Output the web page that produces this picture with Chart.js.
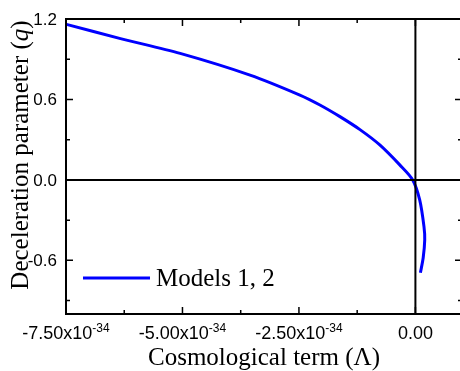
<!DOCTYPE html>
<html>
<head>
<meta charset="utf-8">
<script src="https://cdn.jsdelivr.net/npm/chart.js@4.4.1/dist/chart.umd.min.js"></script>
<style>
  html, body { margin: 0; padding: 0; overflow: hidden; background: #fff; }
  #wrap { width: 472px; height: 371px; }
</style>
</head>
<body>
<div id="wrap"><canvas id="qChart" width="472" height="371"></canvas></div>
<script>
// values (Lambda, q)
const lambdaValues = [-7.49e-34, -6.33e-34, -5.05e-34, -3.55e-34, -2.48e-34, -2.05e-34, -1.62e-34, -1.19e-34,
  -0.765e-34, -0.336e-34, -0.058e-34, 0.092e-34, 0.184e-34, 0.20e-34, 0.167e-34, 0.107e-34];
const qValues = [1.160, 1.054, 0.944, 0.782, 0.633, 0.559, 0.472, 0.375,
  0.261, 0.112, 0.0, -0.149, -0.348, -0.447, -0.581, -0.693];

const xMajorTicks = [-7.5e-34, -5.0e-34, -2.5e-34, 0];
const xTickMain = ["-7.50x10", "-5.00x10", "-2.50x10", "0.00"];
const xTickSup = ["-34", "-34", "-34", ""];
const xMinorTicks = [-6.25e-34, -3.75e-34, -1.25e-34];
const yMajorTicks = [1.2, 0.6, 0.0, -0.6];
const yTickLabels = ["1.2", "0.6", "0.0", "-0.6"];
const yMinorTicks = [0.9, 0.3, -0.3, -0.9];

const seriesLabel = "Models 1, 2";
const xTitle = "Cosmological term (\u039B)";
const yTitle = "Deceleration parameter (";

const points = lambdaValues.map((v, i) => ({ x: v, y: qValues[i] }));

const framePlugin = {
  id: "frame",
  afterDatasetsDraw(chart) {
    const ctx = chart.ctx;
    const a = chart.chartArea;
    const xs = chart.scales.x, ys = chart.scales.y;
    ctx.save();
    ctx.strokeStyle = "#000";
    ctx.lineWidth = 2;
    // zero lines
    const x0 = xs.getPixelForValue(0), y0 = ys.getPixelForValue(0);
    ctx.beginPath();
    ctx.moveTo(x0, a.top); ctx.lineTo(x0, a.bottom);
    ctx.moveTo(a.left, y0); ctx.lineTo(a.right, y0);
    ctx.stroke();
    // box
    ctx.strokeRect(a.left, a.top, a.right - a.left, a.bottom - a.top);
    // ticks (inward, mirrored)
    ctx.lineWidth = 1.5;
    ctx.beginPath();
    const xt = (v, len) => {
      const p = xs.getPixelForValue(v);
      ctx.moveTo(p, a.bottom); ctx.lineTo(p, a.bottom - len);
      ctx.moveTo(p, a.top); ctx.lineTo(p, a.top + len);
    };
    const yt = (v, len) => {
      const p = ys.getPixelForValue(v);
      ctx.moveTo(a.left, p); ctx.lineTo(a.left + len, p);
      ctx.moveTo(a.right, p); ctx.lineTo(a.right - len, p);
    };
    xMajorTicks.forEach(v => xt(v, 7));
    xMinorTicks.forEach(v => xt(v, 4));
    yMajorTicks.forEach(v => yt(v, 7));
    yMinorTicks.forEach(v => yt(v, 4));
    ctx.stroke();

    ctx.fillStyle = "#000";
    // y tick labels
    ctx.font = "17px 'Liberation Sans', Arial, sans-serif";
    ctx.textAlign = "right";
    ctx.textBaseline = "middle";
    yMajorTicks.forEach((v, i) => ctx.fillText(yTickLabels[i], a.left - 9, ys.getPixelForValue(v) + 1));
    // x tick labels with superscript
    ctx.textAlign = "left";
    ctx.textBaseline = "alphabetic";
    xMajorTicks.forEach((v, i) => {
      ctx.font = "18px 'Liberation Sans', Arial, sans-serif";
      const w1 = ctx.measureText(xTickMain[i]).width;
      ctx.font = "12px 'Liberation Sans', Arial, sans-serif";
      const w2 = xTickSup[i] ? ctx.measureText(xTickSup[i]).width : 0;
      const start = xs.getPixelForValue(v) - (w1 + w2) / 2;
      ctx.font = "18px 'Liberation Sans', Arial, sans-serif";
      ctx.fillText(xTickMain[i], start, 339);
      if (xTickSup[i]) {
        ctx.font = "12px 'Liberation Sans', Arial, sans-serif";
        ctx.fillText(xTickSup[i], start + w1, 332);
      }
    });
    // axis titles
    ctx.font = "25px 'Liberation Serif', 'Times New Roman', serif";
    ctx.textAlign = "center";
    ctx.fillText(xTitle, 264, 365);
    ctx.save();
    ctx.translate(28, 155);
    ctx.rotate(-Math.PI / 2);
    const wA = ctx.measureText(yTitle).width;
    ctx.font = "italic 25px 'Liberation Serif', 'Times New Roman', serif";
    const wQ = ctx.measureText("q").width;
    ctx.font = "25px 'Liberation Serif', 'Times New Roman', serif";
    const wC = ctx.measureText(")").width;
    const tot = wA + wQ + wC;
    ctx.textAlign = "left";
    ctx.fillText(yTitle, -tot / 2, 0);
    ctx.font = "italic 25px 'Liberation Serif', 'Times New Roman', serif";
    ctx.fillText("q", -tot / 2 + wA, 0);
    ctx.font = "25px 'Liberation Serif', 'Times New Roman', serif";
    ctx.fillText(")", -tot / 2 + wA + wQ, 0);
    ctx.restore();
    // legend
    ctx.strokeStyle = "#0000ff";
    ctx.lineWidth = 3;
    ctx.beginPath();
    ctx.moveTo(83, 278); ctx.lineTo(150, 278);
    ctx.stroke();
    ctx.textAlign = "left";
    ctx.textBaseline = "middle";
    ctx.fillText(seriesLabel, 156, 279);
    ctx.restore();
  }
};

new Chart(document.getElementById("qChart"), {
  type: "scatter",
  data: {
    datasets: [{
      label: seriesLabel,
      data: points,
      showLine: true,
      borderColor: "#0000ff",
      borderWidth: 3,
      pointRadius: 0,
      tension: 0.3,
      fill: false
    }]
  },
  options: {
    responsive: false,
    animation: false,
    layout: { padding: { left: 66, top: 19, right: 10, bottom: 57 } },
    plugins: { legend: { display: false }, tooltip: { enabled: false } },
    scales: {
      x: { type: "linear", display: false, min: -7.5e-34, max: 1.0e-34 },
      y: { type: "linear", display: false, min: -1.0, max: 1.2 }
    }
  },
  plugins: [framePlugin]
});
</script>
</body>
</html>
